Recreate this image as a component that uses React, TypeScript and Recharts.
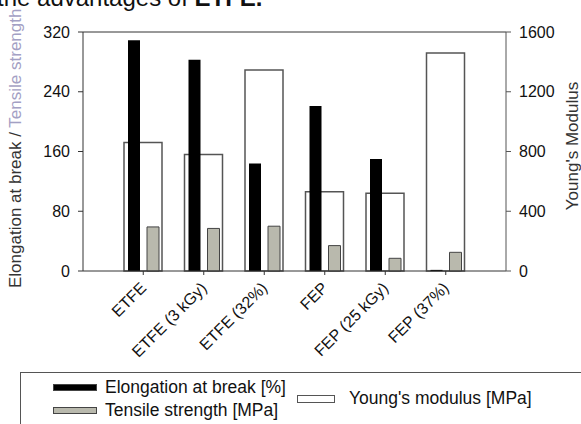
import { BarChart, Bar, XAxis, YAxis, ReferenceLine } from 'recharts'

const categories = ['ETFE', 'ETFE (3 kGy)', 'ETFE (32%)', 'FEP', 'FEP (25 kGy)', 'FEP (37%)']
const elongation = [309, 283, 144, 221, 150, 1.5]
const tensile = [59, 57, 60, 34, 17, 25]
const youngs = [860, 780, 1345, 530, 520, 1460]
const leftTicks = [0, 80, 160, 240, 320]
const rightTicks = [0, 400, 800, 1200, 1600]

const data = categories.map((name, i) => ({
  name,
  elongation: elongation[i],
  tensile: tensile[i],
  youngs: youngs[i],
}))

const FONT = '"Liberation Sans", Arial, sans-serif'
const AXIS = '#333'
const GRAY_FILL = '#b9b9ad'

const CategoryTick = (props: any) => {
  const { x, y, payload } = props
  return (
    <g transform={`translate(${x + 4},${y + 12})`}>
      <text textAnchor="end" transform="rotate(-45)" fontSize={16} fontFamily={FONT} fill="#111">
        {payload.value}
      </text>
    </g>
  )
}

const swatch = (bg: string, w: number, h: number) => ({
  position: 'absolute' as const,
  width: w,
  height: h,
  background: bg,
  border: '1px solid #444',
  boxSizing: 'border-box' as const,
})

const label = {
  position: 'absolute' as const,
  fontFamily: FONT,
  fontSize: 17.5,
  color: '#111',
  lineHeight: '20px',
  whiteSpace: 'nowrap' as const,
}

export default function App() {
  return (
    <div style={{ position: 'absolute', left: 0, top: 0, width: 581, height: 424, overflow: 'hidden', background: '#fff' }}>
      <BarChart
        width={581}
        height={424}
        data={data}
        margin={{ top: 32, right: 0, bottom: 93, left: 0 }}
        barGap={7}
      >
        <XAxis
          xAxisId="pair"
          dataKey="name"
          interval={0}
          padding={{ left: 30, right: 30 }}
          height={60}
          tickSize={4}
          stroke={AXIS}
          tick={<CategoryTick />}
        />
        <XAxis xAxisId="modulus" dataKey="name" hide height={0} padding={{ left: 30, right: 30 }} />
        <YAxis
          yAxisId="left"
          domain={[0, 320]}
          ticks={leftTicks}
          width={83}
          tickSize={5}
          tickMargin={8}
          stroke={AXIS}
          tick={{ fontSize: 16, fontFamily: FONT, fill: '#111' }}
        />
        <YAxis
          yAxisId="right"
          orientation="right"
          domain={[0, 1600]}
          ticks={rightTicks}
          width={75}
          tickSize={5}
          tickMargin={8}
          stroke="#555"
          tick={{ fontSize: 16, fontFamily: FONT, fill: '#111', textAnchor: 'start' }}
        />
        <ReferenceLine xAxisId="pair" yAxisId="left" y={320} stroke={AXIS} />
        <Bar
          xAxisId="modulus"
          yAxisId="right"
          dataKey="youngs"
          barSize={38}
          fill="#fff"
          stroke="#555"
          strokeWidth={1.5}
          isAnimationActive={false}
        />
        <Bar xAxisId="pair" yAxisId="left" dataKey="elongation" barSize={12} fill="#000" isAnimationActive={false} />
        <Bar
          xAxisId="pair"
          yAxisId="left"
          dataKey="tensile"
          barSize={12}
          fill={GRAY_FILL}
          stroke="#444"
          strokeWidth={1}
          isAnimationActive={false}
        />
      </BarChart>

      <svg width={581} height={424} style={{ position: 'absolute', left: 0, top: 0, pointerEvents: 'none' }}>
        <text x={-3} y={6} fontSize={24} fontFamily={FONT} fill="#111">
          the advantages of <tspan fontWeight="bold">ETFE.</tspan>
        </text>
        <text transform="translate(21,288) rotate(-90)" fontSize={17} fontFamily={FONT}>
          <tspan fill="#333">Elongation at break / </tspan>
          <tspan fill="#a3a0c4">Tensile strength</tspan>
        </text>
        <text transform="translate(578,146) rotate(-90)" textAnchor="middle" fontSize={17} fontFamily={FONT} fill="#333">
          Young's Modulus
        </text>
      </svg>

      <div
        style={{
          position: 'absolute',
          left: 20,
          top: 372,
          width: 600,
          height: 80,
          border: '1.5px solid #555',
          boxSizing: 'border-box',
        }}
      />
      <div style={{ ...swatch('#000', 44, 7), left: 53, top: 384 }} />
      <div style={{ ...label, left: 105, top: 377 }}>Elongation at break [%]</div>
      <div style={{ ...swatch(GRAY_FILL, 44, 7), left: 53, top: 407 }} />
      <div style={{ ...label, left: 105, top: 400 }}>Tensile strength [MPa]</div>
      <div style={{ ...swatch('#fff', 38, 8), left: 297, top: 395, border: '1.5px solid #555' }} />
      <div style={{ ...label, left: 349, top: 388 }}>Young's modulus [MPa]</div>
    </div>
  )
}
